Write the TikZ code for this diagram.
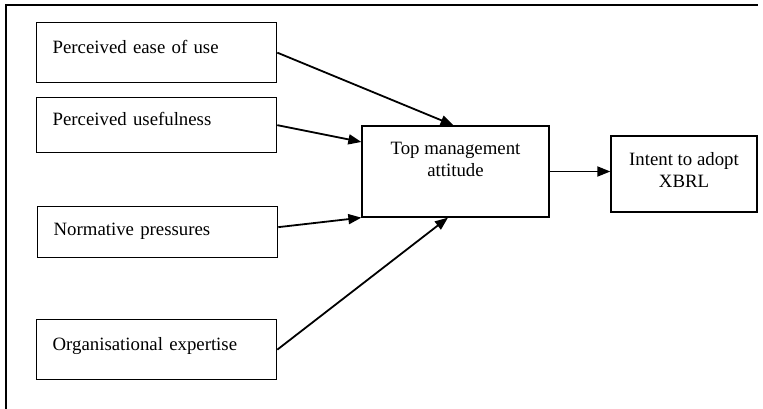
\documentclass[tikz,border=0pt]{standalone}
\usepackage{fontspec}
\setmainfont{Liberation Serif}
\usetikzlibrary{arrows.meta,calc}

\begin{document}
\begin{tikzpicture}[x=1pt, y=-1pt, font=\fontsize{18.8}{22}\selectfont,
  factor/.style={draw, line width=1.3pt, anchor=north west, minimum width=240pt,
    minimum height=60pt, inner xsep=16pt, text width=208pt, align=left,
    text height=13pt, text depth=12pt},
  stage/.style={draw, line width=1.3pt, align=center},
  link/.style={line width=1.8pt, -{Triangle[length=13pt,width=10pt]}}]
\useasboundingbox (0,0) rectangle (763,409);
% frame (top and left only)
\draw[line width=1.3pt] (6,409) -- (6,5) -- (758,5);
% factors
\node[factor] (ease) at (36,22) {Perceived ease of use};
\node[factor, minimum height=55pt] (useful) at (36,97) {Perceived usefulness};
\node[factor, minimum height=51pt, text depth=6pt] (norm) at (37,206) {Normative pressures};
\node[factor] (expert) at (36,319) {Organisational expertise};
% attitude and intent
\node[stage, minimum width=187pt, minimum height=91pt, text depth=25pt] (tm) at (455.5,171.5)
  {Top management\\attitude};
\node[stage, minimum width=146pt, minimum height=76pt, text depth=8pt] (intent) at (684,174)
  {Intent to adopt\\XBRL};
% links
\draw[link] (ease.east) -- ($(tm.north west)!0.49!(tm.north east)$);
\draw[link] (useful.east) -- ($(tm.north west)!0.18!(tm.south west)$);
\draw[link] ($(norm.east)+(0,-5)$) -- (tm.south west);
\draw[link] (expert.east) -- ($(tm.south west)!0.46!(tm.south east)$);
\draw[link] (tm.east) -- (tm.east -| intent.west);
\end{tikzpicture}
\end{document}
